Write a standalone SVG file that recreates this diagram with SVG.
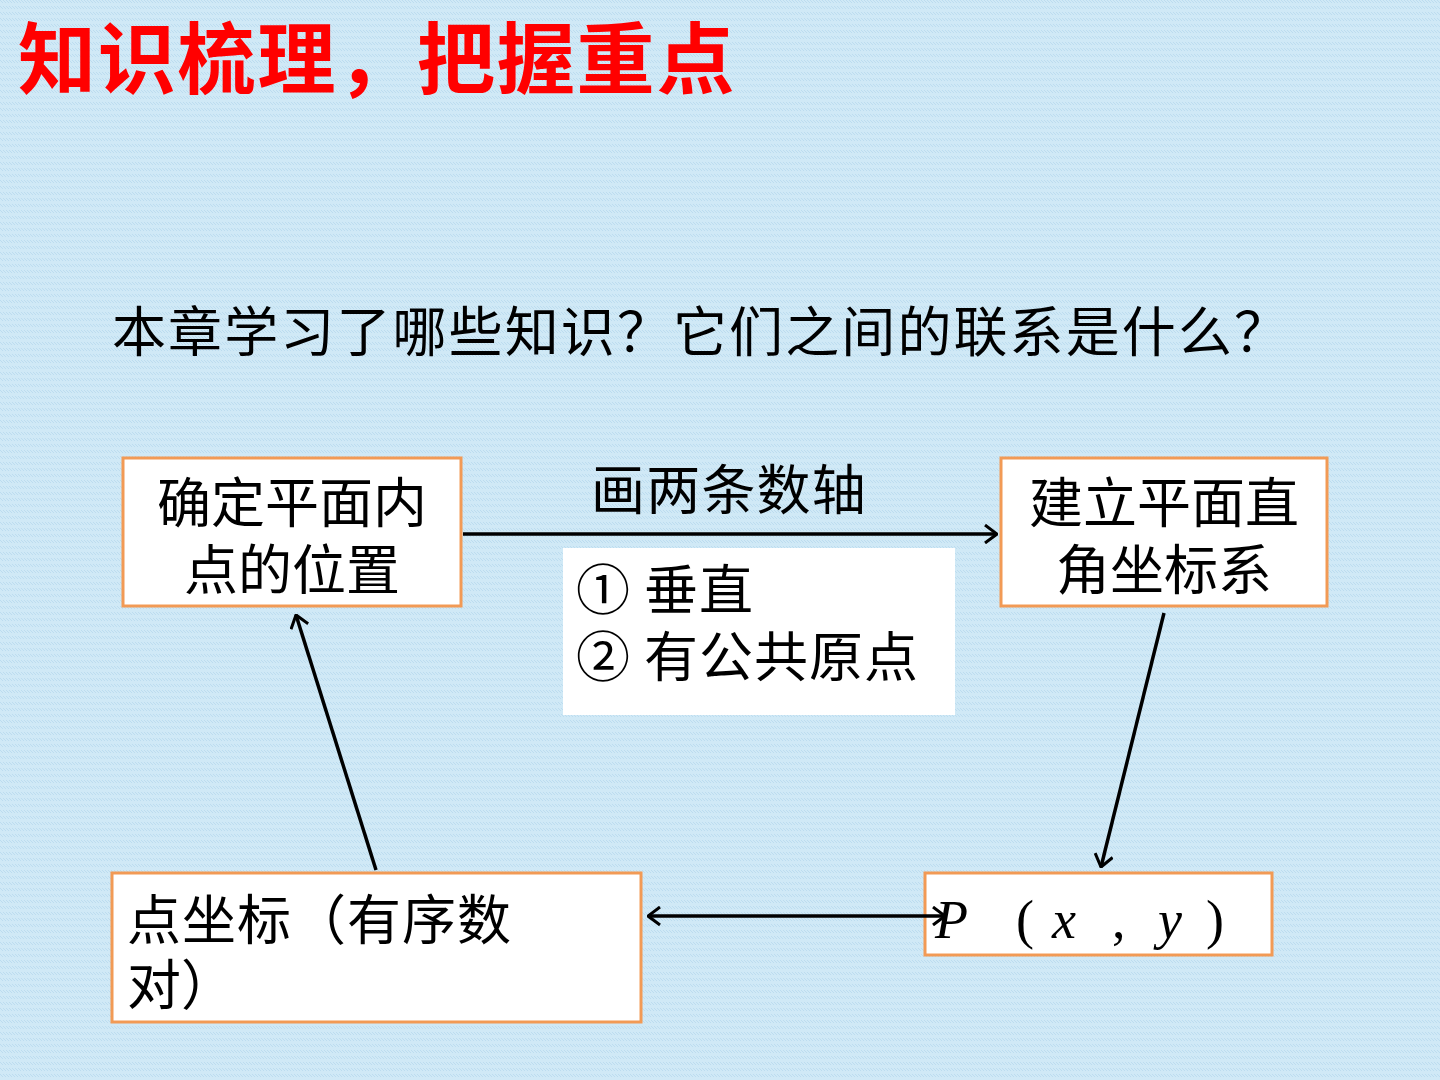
<svg xmlns="http://www.w3.org/2000/svg" width="1440" height="1080" viewBox="0 0 1440 1080">
<defs>
<marker id="ah" viewBox="0 0 14 20" refX="13" refY="10" markerWidth="14" markerHeight="20" markerUnits="userSpaceOnUse" orient="auto-start-reverse">
<path d="M1,1 L13,10 L1,19" fill="none" stroke="#000" stroke-width="3"/>
</marker>
<pattern id="tex" width="6" height="6" patternUnits="userSpaceOnUse">
<rect width="6" height="6" fill="#d0e9f6"/>
<path d="M0,0 L3,3 M3,0 L6,3" stroke="#bcdcef" stroke-width="1"/>
</pattern>
</defs>
<style>
.box{fill:#fff;stroke:#f29a55;stroke-width:3}
.t{font-family:"Noto Sans CJK SC","Liberation Sans",sans-serif;font-size:54px;fill:#000}
.s{font-family:"Liberation Serif","Noto Sans CJK SC",serif;font-size:54px;fill:#000}
.c{stroke:#000;stroke-width:3.5;fill:none}
</style>
<rect width="1440" height="1080" fill="url(#tex)"/>
<text x="18" y="88" font-family="'Noto Sans CJK SC',sans-serif" font-weight="bold" font-size="78" letter-spacing="1.8" fill="#ff0000">知识梳理，把握重点</text>
<text x="112" y="352" class="t" letter-spacing="2.1">本章学习了哪些知识？它们之间的联系是什么？</text>
<g id="label-axes">
<text x="591" y="510" class="t" letter-spacing="1.2">画两条数轴</text>
</g>
<g id="conditions">
<rect x="563" y="548" width="392" height="167" fill="#fff"/>
<text x="576" y="610" class="t" letter-spacing="1">① 垂直</text>
<text x="576" y="677" class="t" letter-spacing="1">② 有公共原点</text>
</g>
<g id="node-position">
<rect class="box" x="123" y="458" width="338" height="148"/>
<text x="292" y="523" class="t" font-size="55" text-anchor="middle">确定平面内</text>
<text x="292" y="590" class="t" font-size="55" text-anchor="middle">点的位置</text>
</g>
<g id="node-system">
<rect class="box" x="1001" y="458" width="326" height="148"/>
<text x="1164" y="523" class="t" font-size="55" text-anchor="middle">建立平面直</text>
<text x="1164" y="590" class="t" font-size="55" text-anchor="middle">角坐标系</text>
</g>
<g id="node-coord">
<rect class="box" x="112" y="873" width="529" height="149"/>
<text x="127" y="940" class="t" font-size="55" letter-spacing="1">点坐标（有序数</text>
<text x="127" y="1005" class="t" font-size="55">对）</text>
</g>
<g id="node-point">
<rect class="box" x="925" y="873" width="347" height="82"/>
<text y="938" class="s"><tspan x="935" font-style="italic">P</tspan><tspan x="1016">(</tspan><tspan x="1052" font-style="italic">x</tspan><tspan x="1112">,</tspan><tspan x="1158" font-style="italic">y</tspan><tspan x="1206">)</tspan></text>
</g>
<g id="connectors">
<line class="c" x1="463" y1="534" x2="997" y2="534" marker-end="url(#ah)"/>
<line class="c" x1="1164" y1="613" x2="1101" y2="867" marker-end="url(#ah)"/>
<line class="c" x1="648" y1="916" x2="945" y2="916" marker-start="url(#ah)" marker-end="url(#ah)"/>
<line class="c" x1="376" y1="870" x2="296" y2="615" marker-end="url(#ah)"/>
</g>
</svg>
